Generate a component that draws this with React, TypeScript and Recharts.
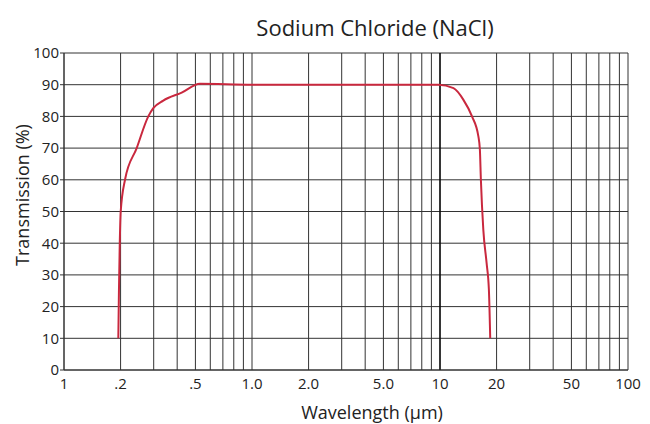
import { LineChart, Line, XAxis, YAxis, CartesianGrid, ReferenceLine } from "recharts";

// wavelength in µm, transmission in %
const wavelength = [
  0.1945, 0.196, 0.198, 0.2003, 0.2111, 0.2436, 0.2808, 0.2985, 0.3373, 0.4227, 0.529,
  1.0, 2.0, 5.0, 9.8, 11.8, 13.3, 14.8, 16.0, 16.3, 16.5, 17.0, 17.7, 18.2, 18.5,
];
const transmission = [
  10, 25, 40, 50, 60, 70, 80, 82.6, 85, 87.5, 90.3,
  90, 90, 90, 90, 88.9, 85.3, 80, 73.7, 69.5, 60, 44.2, 33.7, 25.3, 10,
];

const gridTicks = [
  0.1, 0.2, 0.3, 0.4, 0.5, 0.6, 0.7, 0.8, 0.9,
  1, 2, 3, 4, 5, 6, 7, 8, 9,
  10, 20, 30, 40, 50, 60, 70, 80, 90, 100,
];
const tickLabels: Record<string, string> = {
  "0.1": "1",
  "0.2": ".2",
  "0.5": ".5",
  "1": "1.0",
  "2": "2.0",
  "5": "5.0",
  "10": "10",
  "20": "20",
  "50": "50",
  "100": "100",
};
const yTicks = [0, 10, 20, 30, 40, 50, 60, 70, 80, 90, 100];

const data = wavelength.map((w, i) => ({ w, t: transmission[i] }));

const font = "'Open Sans', 'Noto Sans', sans-serif";

export default function App() {
  return (
    <div style={{ position: "absolute", left: 0, top: 0, width: 650, height: 424, background: "#fff", fontFamily: font }}>
      <div style={{ position: "absolute", left: 0, width: 750, top: 12, textAlign: "center", fontSize: 22, color: "#222" }}>
        Sodium Chloride (NaCl)
      </div>
      <LineChart width={650} height={424} data={data} margin={{ top: 53, right: 22, bottom: 24, left: 4 }}>
        <CartesianGrid stroke="#333" strokeWidth={1} />
        <XAxis
          dataKey="w"
          type="number"
          scale="log"
          domain={[0.1, 100]}
          ticks={gridTicks}
          interval={0}
          allowDataOverflow
          tickFormatter={(v) => tickLabels[String(v)] ?? ""}
          tickLine={false}
          tickSize={6}
          tickMargin={2}
          height={30}
          axisLine={{ stroke: "#333" }}
          tick={{ fontSize: 15, fill: "#222", fontFamily: font }}
        />
        <YAxis
          type="number"
          domain={[0, 100]}
          ticks={yTicks}
          interval={0}
          width={60}
          tickSize={4}
          tickMargin={1}
          axisLine={{ stroke: "#333" }}
          tickLine={{ stroke: "#333" }}
          tick={{ fontSize: 15, fill: "#222", fontFamily: font }}
        />
        <ReferenceLine x={10} stroke="#000" strokeWidth={1.3} />
        <Line
          dataKey="t"
          type="monotone"
          stroke="#c9283e"
          strokeWidth={2}
          dot={false}
          isAnimationActive={false}
        />
      </LineChart>
      <div style={{ position: "absolute", left: 0, width: 744, top: 400, textAlign: "center", fontSize: 18, color: "#222" }}>
        Wavelength (µm)
      </div>
      <div
        style={{
          position: "absolute",
          left: 22,
          top: 195,
          transform: "translate(-50%, -50%) rotate(-90deg)",
          whiteSpace: "nowrap",
          fontSize: 18,
          color: "#222",
        }}
      >
        Transmission (%)
      </div>
    </div>
  );
}
